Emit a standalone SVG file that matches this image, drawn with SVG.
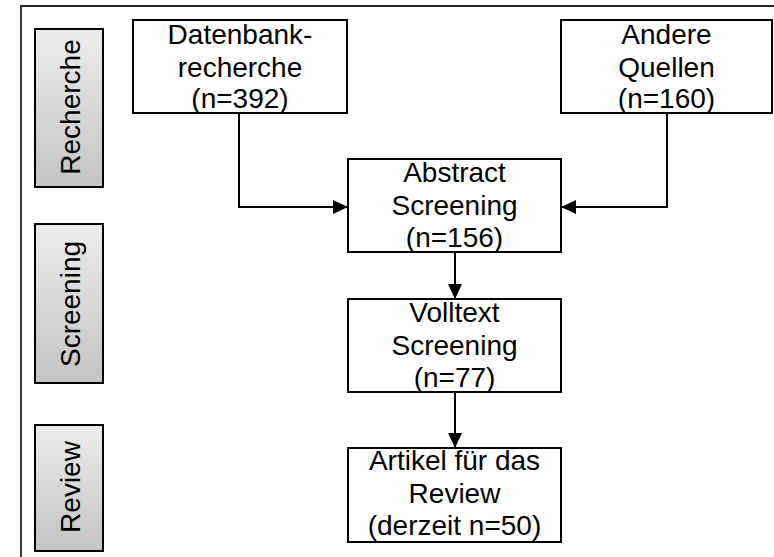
<svg xmlns="http://www.w3.org/2000/svg" width="774" height="557" viewBox="0 0 774 557">
  <defs>
    <linearGradient id="phaseFill" x1="0" y1="0" x2="0" y2="1">
      <stop offset="0" stop-color="#ececec"/>
      <stop offset="1" stop-color="#c4c4c4"/>
    </linearGradient>
    <marker id="arrow" viewBox="0 0 15 14" refX="15" refY="7" markerWidth="15" markerHeight="14" markerUnits="userSpaceOnUse" orient="auto">
      <path d="M0,0 L15,7 L0,14 Z" fill="#000"/>
    </marker>
    <style>
      .box { fill: #fff; stroke: #000; stroke-width: 2; }
      .phase { fill: url(#phaseFill); stroke: #000; stroke-width: 2; }
      .t { font-family: "Liberation Sans", Arial, sans-serif; font-size: 28px; fill: #000; text-anchor: middle; }
      .conn { fill: none; stroke: #000; stroke-width: 2; marker-end: url(#arrow); }
      .frame { fill: none; stroke: #262626; stroke-width: 1.8; }
    </style>
  </defs>

  <rect width="774" height="557" fill="#fff"/>

  <!-- outer frame (top and left edges) -->
  <path class="frame" d="M21,557 L21,6 L774,6"/>

  <!-- phase labels -->
  <g id="phase-recherche">
    <rect class="phase" x="35" y="29" width="68" height="158"/>
    <text class="t" transform="translate(80,107) rotate(-90)">Recherche</text>
  </g>
  <g id="phase-screening">
    <rect class="phase" x="35" y="224" width="68" height="159"/>
    <text class="t" transform="translate(80,304) rotate(-90)">Screening</text>
  </g>
  <g id="phase-review">
    <rect class="phase" x="35" y="425" width="68" height="126"/>
    <text class="t" transform="translate(80,487) rotate(-90)">Review</text>
  </g>

  <!-- connectors -->
  <g id="connectors">
    <path class="conn" d="M239,113 L239,207 L348,207"/>
    <path class="conn" d="M667,113 L667,207 L561,207"/>
    <path class="conn" d="M455,252 L455,299"/>
    <path class="conn" d="M455,392 L455,448"/>
  </g>

  <!-- nodes -->
  <g id="node-datenbank">
    <rect class="box" x="133" y="20" width="214" height="93"/>
    <text class="t" x="240" y="44">Datenbank-</text>
    <text class="t" x="240" y="77">recherche</text>
    <text class="t" x="240" y="108">(n=392)</text>
  </g>
  <g id="node-andere">
    <rect class="box" x="561" y="20" width="211" height="93"/>
    <text class="t" x="666.5" y="44">Andere</text>
    <text class="t" x="666.5" y="77">Quellen</text>
    <text class="t" x="666.5" y="108">(n=160)</text>
  </g>
  <g id="node-abstract">
    <rect class="box" x="348" y="159" width="213" height="93"/>
    <text class="t" x="454.5" y="182">Abstract</text>
    <text class="t" x="454.5" y="215">Screening</text>
    <text class="t" x="454.5" y="247">(n=156)</text>
  </g>
  <g id="node-volltext">
    <rect class="box" x="348" y="299" width="213" height="93"/>
    <text class="t" x="454.5" y="322">Volltext</text>
    <text class="t" x="454.5" y="355">Screening</text>
    <text class="t" x="454.5" y="387">(n=77)</text>
  </g>
  <g id="node-artikel">
    <rect class="box" x="348" y="448" width="213" height="94"/>
    <text class="t" x="454.5" y="470">Artikel für das</text>
    <text class="t" x="454.5" y="503">Review</text>
    <text class="t" x="454.5" y="535">(derzeit n=50)</text>
  </g>
</svg>
